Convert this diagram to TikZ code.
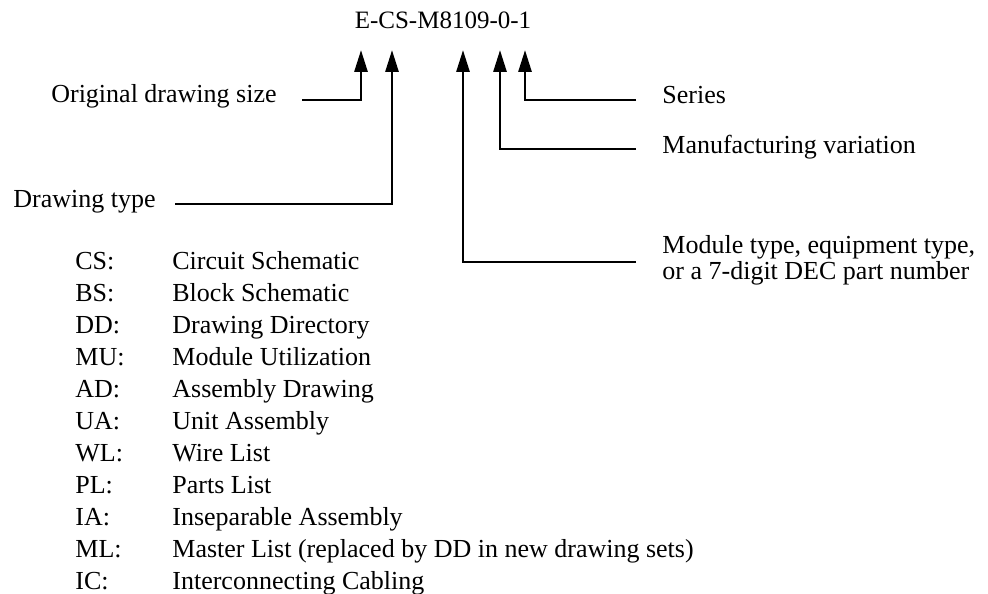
\documentclass[tikz,border=0pt]{standalone}
\usepackage{fontspec}
\setmainfont{Liberation Serif}
\usetikzlibrary{arrows.meta}
\begin{document}
\begin{tikzpicture}[x=0.5pt,y=-0.5pt,
  lbl/.style={inner sep=0pt, font=\fontsize{13pt}{15pt}\selectfont},
  ttl/.style={inner sep=0pt, font=\fontsize{12.5pt}{15pt}\selectfont},
  arr/.style={line width=1.4pt, -{Triangle[width=6.5pt,length=11pt]}}]
\useasboundingbox (0,0) rectangle (988,593);
% title
\node[ttl] (t) at (443,20) {E-CS-M8109-0-1};
% arrow tips
\coordinate (tip1) at (361,50);
\coordinate (tip2) at (392,50);
\coordinate (tip3) at (463,50);
\coordinate (tip4) at (500,50);
\coordinate (tip5) at (525,50);
% corners
\coordinate (c1) at (361,100);
\coordinate (c2) at (392,204);
\coordinate (c3) at (463,262);
\coordinate (c4) at (500,149);
\coordinate (c5) at (525,100);
% line ends
\coordinate (e1) at (302,100);
\coordinate (e2) at (175,204);
\coordinate (e3) at (636,262);
\coordinate (e4) at (636,149);
\coordinate (e5) at (636,100);
% labels
\node[lbl, anchor=mid east] (ods) at (277,98) {Original drawing size};
\node[lbl, anchor=mid east] (dt) at (156,203) {Drawing type};
\node[lbl, anchor=mid west] (ser) at (662,99) {Series};
\node[lbl, anchor=mid west] (mv) at (662,149) {Manufacturing variation};
\node[lbl, anchor=mid west] (mt1) at (662,249) {Module type, equipment type,};
\node[lbl, anchor=mid west] (mt2) at (662,275) {or a 7-digit DEC part number};
% connectors
\draw[arr] (e1) -- (c1) -- (tip1);
\draw[arr] (e2) -- (c2) -- (tip2);
\draw[arr] (e3) -- (c3) -- (tip3);
\draw[arr] (e4) -- (c4) -- (tip4);
\draw[arr] (e5) -- (c5) -- (tip5);
% list
\foreach \i/\c/\d in {0/CS/Circuit Schematic,1/BS/Block Schematic,2/DD/Drawing Directory,3/MU/Module Utilization,4/AD/Assembly Drawing,5/UA/Unit Assembly,6/WL/Wire List,7/PL/Parts List,8/IA/Inseparable Assembly,9/ML/Master List (replaced by DD in new drawing sets),10/IC/Interconnecting Cabling}{
  \node[lbl, anchor=mid west] (code\i) at (75,265+32*\i) {\c:};
  \node[lbl, anchor=mid west] (desc\i) at (172,265+32*\i) {\d};
}
\end{tikzpicture}
\end{document}
